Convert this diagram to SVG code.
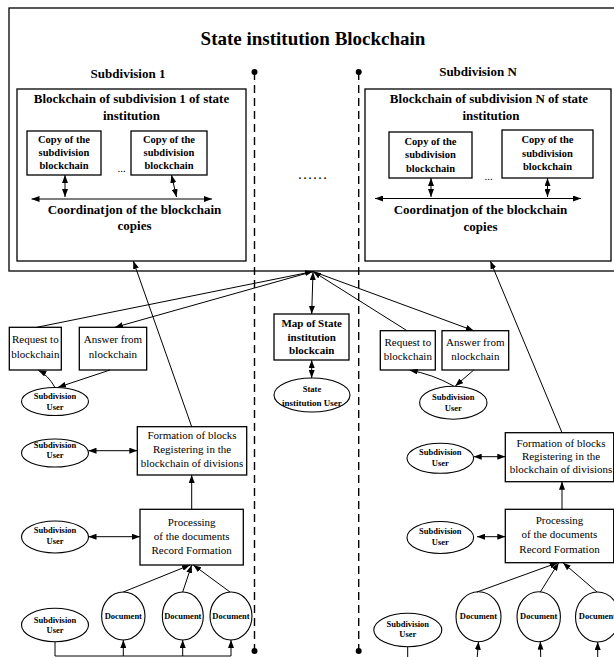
<svg xmlns="http://www.w3.org/2000/svg" width="614" height="657" viewBox="0 0 614 657">
<style>
.bx{fill:none;stroke:#000;stroke-width:1.3}
.el{fill:#fff;stroke:#000;stroke-width:1.1}
.ln{fill:none;stroke:#000;stroke-width:1}
.ar{marker-end:url(#a)}
.da{marker-start:url(#a);marker-end:url(#a)}
.dash{stroke:#000;stroke-width:1.4;stroke-dasharray:8 5;fill:none}
text{font-family:"Liberation Serif","Times New Roman",serif;fill:#000;text-anchor:middle}
.t0{font-size:19px;font-weight:bold}
.t1{font-size:13px;font-weight:bold}
.t2{font-size:10.5px;font-weight:bold}
.t3{font-size:11px}
.t4{font-size:8.5px;font-weight:bold}
.t5{font-size:11px;font-weight:bold}
</style>
<defs>
<marker id="a" markerUnits="userSpaceOnUse" markerWidth="8" markerHeight="6" refX="8" refY="3" orient="auto-start-reverse"><path d="M0,0 L8,3 L0,6 z" fill="#000"/></marker>
</defs>

<g id="outer">
<rect class="bx" x="9" y="8" width="612" height="263" stroke-width="1.6"/>
<text class="t0" x="313" y="45">State institution Blockchain</text>
</g>

<g id="separators">
<line class="dash" x1="254.5" y1="72" x2="254.5" y2="651"/>
<line class="dash" x1="358.7" y1="72" x2="358.7" y2="651"/>
<circle cx="254.5" cy="72" r="3"/><circle cx="254.5" cy="651" r="3"/>
<circle cx="358.7" cy="72" r="3"/><circle cx="358.7" cy="651" r="3"/>
<text class="t3" x="312.5" y="179" style="font-size:15px">……</text>
</g>

<g id="sub1">
<text class="t1" x="128" y="78">Subdivision 1</text>
<rect class="bx" x="17" y="89" width="229" height="172"/>
<text class="t1" x="131.5" y="103">Blockchain of subdivision 1 of state</text>
<text class="t1" x="131.5" y="120">institution</text>
<text class="t1" x="134.5" y="213.5">Coordinatjon of the blockchain</text>
<text class="t1" x="134.5" y="230">copies</text>
<text class="t3" x="121.5" y="172">...</text>
</g>
<g id="copy1a"><rect class="bx" x="27" y="131" width="74" height="44"/>
<text class="t2" x="64" y="143">Copy of the</text><text class="t2" x="64" y="156">subdivision</text><text class="t2" x="64" y="169">blockchain</text></g>
<g id="copy1b"><rect class="bx" x="131" y="131" width="76" height="44"/>
<text class="t2" x="169" y="143">Copy of the</text><text class="t2" x="169" y="156">subdivision</text><text class="t2" x="169" y="169">blockchain</text></g>

<g id="subN">
<text class="t1" x="478" y="76">Subdivision N</text>
<rect class="bx" x="365" y="89" width="246" height="172"/>
<text class="t1" x="489" y="103">Blockchain of subdivision N of state</text>
<text class="t1" x="491" y="119.5">institution</text>
<text class="t1" x="480.5" y="214">Coordinatjon of the blockchain</text>
<text class="t1" x="480.5" y="230.7">copies</text>
<text class="t3" x="488.5" y="180">...</text>
</g>
<g id="copyNa"><rect class="bx" x="389" y="132" width="83" height="46"/>
<text class="t2" x="430.5" y="145">Copy of the</text><text class="t2" x="430.5" y="158">subdivision</text><text class="t2" x="430.5" y="171.5">blockchain</text></g>
<g id="copyNb"><rect class="bx" x="502" y="130" width="91" height="48"/>
<text class="t2" x="547.5" y="143.3">Copy of the</text><text class="t2" x="547.5" y="156.7">subdivision</text><text class="t2" x="547.5" y="170">blockchain</text></g>

<g id="map"><rect class="bx" x="274" y="314" width="75" height="46"/>
<text class="t5" x="311.7" y="326.7">Map of State</text><text class="t5" x="311.7" y="340.7">institution</text><text class="t5" x="311.7" y="354">blockcain</text></g>
<g id="stateUser"><ellipse class="el" cx="312" cy="395" rx="38" ry="17"/>
<text class="t4" x="312" y="392">State</text><text class="t4" x="312" y="406" style="font-size:9px">institution User</text></g>

<g id="req1"><rect class="bx" x="9.3" y="327.3" width="52" height="42.7"/>
<text class="t3" x="35.3" y="343.3">Request to</text><text class="t3" x="35.3" y="358.3">blockchain</text></g>
<g id="ans1"><rect class="bx" x="79.3" y="327.3" width="67.4" height="42.7"/>
<text class="t3" x="113" y="343.3">Answer from</text><text class="t3" x="113" y="358.3">nlockchain</text></g>
<g id="user1a"><ellipse class="el" cx="55" cy="401.5" rx="33.5" ry="14"/>
<text class="t4" x="55" y="399.3">Subdivision</text><text class="t4" x="55" y="410">User</text></g>
<g id="form1"><rect class="bx" x="137.3" y="426.7" width="109.4" height="48.3"/>
<text class="t3" x="192" y="439">Formation of blocks</text><text class="t3" x="192" y="453">Registering in the</text><text class="t3" x="192" y="467">blockchain of divisions</text></g>
<g id="user1b"><ellipse class="el" cx="55" cy="453" rx="33.5" ry="14"/>
<text class="t4" x="55" y="447.5">Subdivision</text><text class="t4" x="55" y="458">User</text></g>
<g id="proc1"><rect class="bx" x="140" y="509.3" width="103.3" height="55.7"/>
<text class="t3" x="191.7" y="526">Processing</text><text class="t3" x="191.7" y="540">of the documents</text><text class="t3" x="191.7" y="554">Record Formation</text></g>
<g id="user1c"><ellipse class="el" cx="55" cy="537" rx="33.5" ry="16"/>
<text class="t4" x="55" y="533.3">Subdivision</text><text class="t4" x="55" y="544">User</text></g>
<g id="user1d"><ellipse class="el" cx="55" cy="625" rx="33.5" ry="16.7"/>
<text class="t4" x="55" y="622.7">Subdivision</text><text class="t4" x="55" y="633.3">User</text></g>
<g id="doc1a"><ellipse class="el" cx="123.3" cy="616" rx="21.7" ry="24"/><text class="t4" x="123.3" y="618.5">Document</text></g>
<g id="doc1b"><ellipse class="el" cx="182.8" cy="616" rx="20.5" ry="24"/><text class="t4" x="182.8" y="618.5">Document</text></g>
<g id="doc1c"><ellipse class="el" cx="231" cy="616" rx="21" ry="24"/><text class="t4" x="231" y="618.5">Document</text></g>

<g id="reqN"><rect class="bx" x="380.3" y="330.7" width="55" height="39.3"/>
<text class="t3" x="407.8" y="346">Request to</text><text class="t3" x="407.8" y="360">blockchain</text></g>
<g id="ansN"><rect class="bx" x="442" y="330.7" width="66.7" height="39.3"/>
<text class="t3" x="475.3" y="346">Answer from</text><text class="t3" x="475.3" y="360">nlockchain</text></g>
<g id="userNa"><ellipse class="el" cx="453.3" cy="402.7" rx="33.7" ry="16.5"/>
<text class="t4" x="453.3" y="400">Subdivision</text><text class="t4" x="453.3" y="410.7">User</text></g>
<g id="formN"><rect class="bx" x="505.3" y="432.7" width="108.4" height="49"/>
<text class="t3" x="561" y="446.7">Formation of blocks</text><text class="t3" x="561" y="459.7">Registering in the</text><text class="t3" x="561" y="473.3">blockchain of divisions</text></g>
<g id="userNb"><ellipse class="el" cx="440.3" cy="458.3" rx="33.3" ry="15"/>
<text class="t4" x="440.3" y="455">Subdivision</text><text class="t4" x="440.3" y="466">User</text></g>
<g id="procN"><rect class="bx" x="505.3" y="509.3" width="108.4" height="53.4"/>
<text class="t3" x="559.5" y="524">Processing</text><text class="t3" x="559.5" y="538.3">of the documents</text><text class="t3" x="559.5" y="552.7">Record Formation</text></g>
<g id="userNc"><ellipse class="el" cx="440.3" cy="537.5" rx="33.3" ry="16"/>
<text class="t4" x="440.3" y="534">Subdivision</text><text class="t4" x="440.3" y="545">User</text></g>
<g id="userNd"><ellipse class="el" cx="407.8" cy="630" rx="34" ry="16.7"/>
<text class="t4" x="407.8" y="626.7">Subdivision</text><text class="t4" x="407.8" y="636.7">User</text></g>
<g id="docNa"><ellipse class="el" cx="478.5" cy="616.7" rx="22.5" ry="25"/><text class="t4" x="478.5" y="618.5">Document</text></g>
<g id="docNb"><ellipse class="el" cx="538.7" cy="616.7" rx="21.7" ry="25"/><text class="t4" x="538.7" y="618.5">Document</text></g>
<g id="docNc"><ellipse class="el" cx="597.5" cy="617" rx="22" ry="25"/><text class="t4" x="597.5" y="618.5">Document</text></g>

<g id="connectors">
<line class="ln da" x1="65" y1="175" x2="65" y2="197"/>
<line class="ln da" x1="171.5" y1="175" x2="176.5" y2="197"/>
<line class="ln da" x1="31.5" y1="199" x2="212" y2="199"/>
<line class="ln da" x1="431" y1="178" x2="431" y2="197"/>
<line class="ln da" x1="547.5" y1="178" x2="547.5" y2="197"/>
<line class="ln da" x1="375" y1="198.5" x2="581" y2="198.5"/>

<line class="ln da" x1="313" y1="272" x2="311.7" y2="314"/>
<line class="ln da" x1="311.7" y1="360" x2="311.7" y2="378"/>

<line class="ln ar" x1="36.7" y1="327.3" x2="313" y2="271.5"/>
<line class="ln ar" x1="313" y1="271.5" x2="115" y2="327.3"/>
<path class="ln ar" d="M55,387.5 Q48,375 38.3,370.3"/>
<line class="ln ar" x1="110" y1="370" x2="58" y2="387.3"/>
<line class="ln ar" x1="191.7" y1="426.7" x2="133.3" y2="261"/>
<line class="ln da" x1="88.5" y1="450.7" x2="137.3" y2="450.7"/>
<line class="ln ar" x1="191.7" y1="509.3" x2="191.7" y2="475"/>
<line class="ln da" x1="88.5" y1="536.7" x2="140" y2="536.7"/>
<line class="ln ar" x1="123.3" y1="592" x2="190" y2="565"/>
<line class="ln ar" x1="182.7" y1="592" x2="191.7" y2="565"/>
<line class="ln ar" x1="230" y1="592" x2="193.3" y2="565"/>
<polyline class="ln" points="55,641.7 55,656 231,656"/>
<line class="ln ar" x1="123.3" y1="656" x2="123.3" y2="640"/>
<line class="ln ar" x1="182.7" y1="656" x2="182.7" y2="640"/>
<line class="ln ar" x1="231" y1="656" x2="231" y2="640"/>

<line class="ln ar" x1="407" y1="330.7" x2="313" y2="271.5"/>
<line class="ln ar" x1="313" y1="271.5" x2="473.7" y2="330.7"/>
<path class="ln ar" d="M453.7,386 Q432,374 409.7,370.3"/>
<line class="ln ar" x1="473.7" y1="370" x2="455.3" y2="386"/>
<line class="ln ar" x1="562" y1="432.7" x2="490.3" y2="261"/>
<line class="ln da" x1="473.7" y1="456.7" x2="505.3" y2="456.7"/>
<line class="ln ar" x1="562" y1="509.3" x2="562" y2="481.7"/>
<line class="ln da" x1="477" y1="536.7" x2="505.3" y2="536.7"/>
<line class="ln ar" x1="477" y1="592" x2="557.7" y2="562.7"/>
<line class="ln ar" x1="540.3" y1="592" x2="558.7" y2="562.7"/>
<line class="ln ar" x1="597" y1="592" x2="563" y2="562.7"/>
<line class="ln" x1="407.7" y1="646.7" x2="407.7" y2="660"/>
<line class="ln ar" x1="477" y1="660" x2="478.5" y2="641.7"/>
<line class="ln ar" x1="540.8" y1="660" x2="540.3" y2="641.7"/>
<line class="ln ar" x1="597.7" y1="660" x2="597.7" y2="642"/>
</g>
</svg>
